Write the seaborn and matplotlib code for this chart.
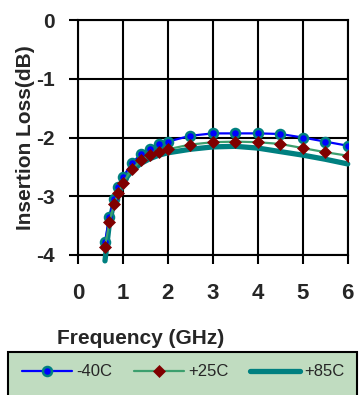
import matplotlib
matplotlib.use("Agg")
import matplotlib.pyplot as plt
import seaborn as sns
import pandas as pd
from matplotlib.patches import Rectangle

freq = [0.6, 0.7, 0.8, 0.9, 1.0, 1.2, 1.4, 1.6, 1.8, 2.0, 2.5, 3.0, 3.5, 4.0, 4.5, 5.0, 5.5, 6.0]
loss_m40 = [-3.78, -3.35, -3.05, -2.84, -2.67, -2.44, -2.28, -2.19, -2.11, -2.07,
            -1.97, -1.93, -1.93, -1.93, -1.94, -2.00, -2.07, -2.14]
loss_p25 = [-3.86, -3.43, -3.14, -2.94, -2.77, -2.54, -2.39, -2.30, -2.25, -2.20,
            -2.12, -2.08, -2.07, -2.08, -2.11, -2.18, -2.25, -2.31]
loss_p85 = [-4.10, -3.45, -3.10, -2.90, -2.75, -2.57, -2.44, -2.36, -2.30, -2.26,
            -2.20, -2.16, -2.15, -2.18, -2.24, -2.30, -2.37, -2.45]
series_names = ["-40C", "+25C", "+85C"]
x_ticks = [0, 1, 2, 3, 4, 5, 6]
y_ticks = [0, -1, -2, -3, -4]

sns.set_theme(style="white")
plt.rcParams["font.family"] = ["Liberation Sans", "DejaVu Sans"]

fig = plt.figure(figsize=(3.59, 3.95), dpi=100)
W, H = 359, 395
ax = fig.add_axes([78 / W, 1 - 255 / H, (347.7 - 78) / W, (255 - 20) / H])

df85 = pd.DataFrame({"f": freq, "v": loss_p85})
dfm40 = pd.DataFrame({"f": freq, "v": loss_m40})
df25 = pd.DataFrame({"f": freq, "v": loss_p25})

sns.lineplot(data=df85, x="f", y="v", ax=ax, color="#008080", linewidth=3.8,
             label=series_names[2], clip_on=False, zorder=3)
sns.lineplot(data=dfm40, x="f", y="v", ax=ax, color="#0000FF", linewidth=1.6,
             marker="o", markersize=6.5, markerfacecolor="#0000FF",
             markeredgecolor="#008080", markeredgewidth=1.8,
             label=series_names[0], zorder=4)
sns.lineplot(data=df25, x="f", y="v", ax=ax, color="#3C9F6E", linewidth=1.6,
             marker="D", markersize=6, markerfacecolor="#800000",
             markeredgecolor="#800000", markeredgewidth=0.5,
             label=series_names[1], zorder=5)

ax.set_xlim(0, 6)
ax.set_ylim(-4, 0)
ax.set_xticks(x_ticks)
ax.set_yticks(y_ticks)
ax.set_xticklabels([str(t) for t in x_ticks], fontsize=16, fontweight="bold")
ax.set_yticklabels([str(t) for t in y_ticks], fontsize=15, fontweight="bold")
ax.grid(True, color="black", linewidth=1.5)
ax.set_axisbelow(True)
for s in ax.spines.values():
    s.set_visible(True)
    s.set_color("black")
    s.set_linewidth(1.5)
ax.tick_params(axis="both", direction="out", length=6.5, width=1.5, color="black",
               bottom=True, left=True)
ax.tick_params(axis="x", pad=14)
ax.tick_params(axis="y", pad=10)
ax.set_xlabel("")
ax.set_ylabel("Insertion Loss(dB)", fontsize=15, fontweight="bold")
ax.yaxis.set_label_coords(-0.158, 0.5)
ax.get_legend().remove()

fig.text(141 / W, 1 - 338 / H, "Frequency (GHz)", ha="center", va="center",
         fontsize=15, fontweight="bold")

rect = Rectangle((8 / W, -0.05), (357 - 8) / W, 0.05 + 1 - 352 / H,
                 transform=fig.transFigure, facecolor="#C0DCC0",
                 edgecolor="black", linewidth=1.5, zorder=0)
fig.patches.append(rect)

h, l = ax.get_legend_handles_labels()
order = [l.index(n) for n in series_names]
leg = fig.legend([h[i] for i in order], [l[i] for i in order], ncol=3,
                 loc="center left", bbox_to_anchor=(22 / W, 1 - 372 / H),
                 frameon=False, fontsize=12, handlelength=3.0,
                 handletextpad=0.25, columnspacing=1.3, borderpad=0,
                 borderaxespad=0)

fig.savefig("out.png", dpi=100)
